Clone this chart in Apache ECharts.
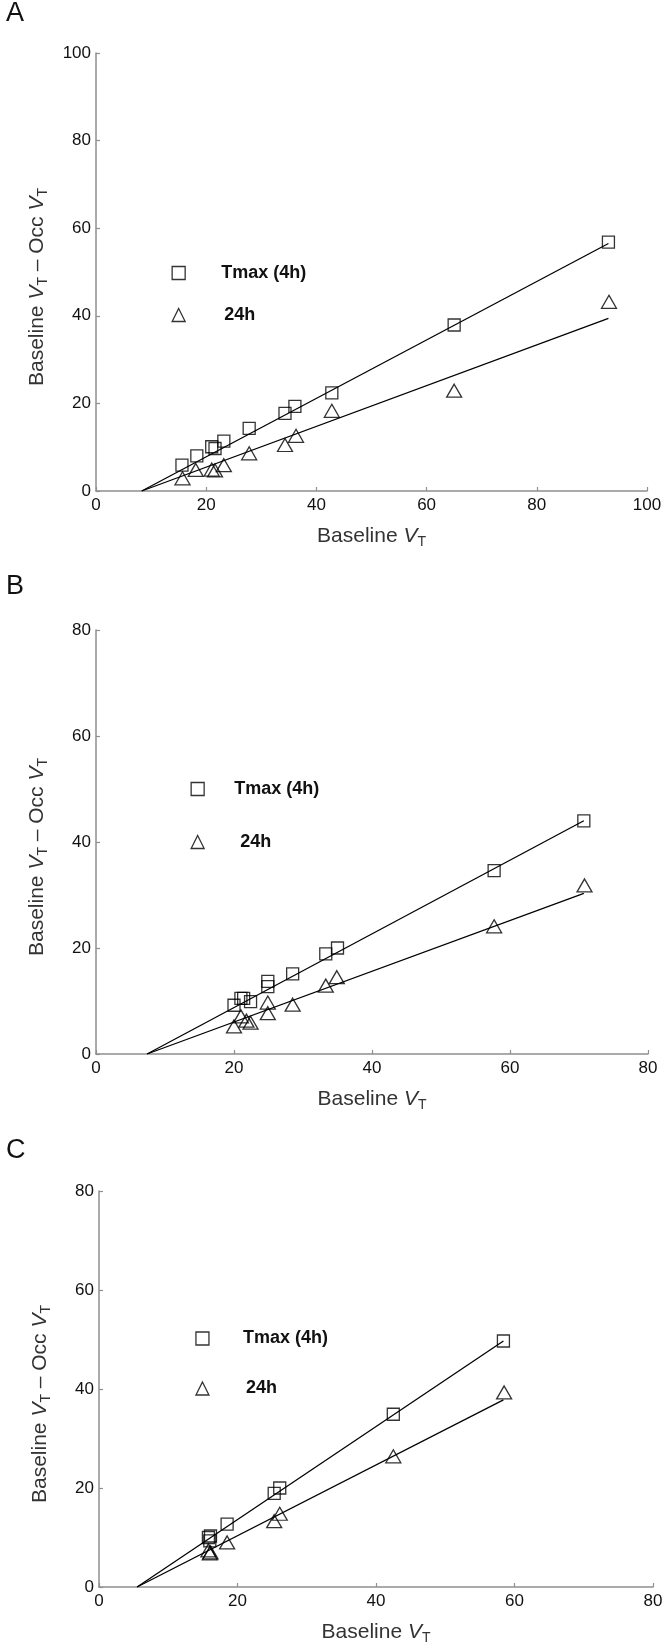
<!DOCTYPE html>
<html><head><meta charset="utf-8">
<script src="https://cdn.jsdelivr.net/npm/echarts@6/dist/echarts.min.js"></script>
<style>html,body{margin:0;padding:0;background:#fff}#c{width:670px;height:1646px}</style>
</head><body><div id="c"></div>
<script>
// ---------- Panel A ----------
const aXTmax = [15.6, 18.3, 21.0, 21.6, 23.2, 27.8, 34.3, 36.1, 42.8, 65.0, 93.0];
const aTmax  = [5.9, 8.0, 10.1, 9.7, 11.4, 14.3, 17.7, 19.3, 22.4, 37.9, 56.8];
const aX24   = [15.7, 18.1, 21.0, 21.6, 23.2, 27.8, 34.3, 36.3, 42.8, 65.0, 93.1];
const a24    = [2.9, 4.8, 4.9, 4.7, 5.9, 8.6, 10.5, 12.6, 18.3, 22.9, 43.2];
const aFitTmax = [[8.3, 0], [93.0, 56.5]];
const aFit24   = [[8.3, 0], [93.0, 39.4]];
// ---------- Panel B ----------
const bXTmax = [20.0, 21.0, 21.4, 22.4, 24.9, 24.9, 28.5, 33.3, 35.0, 57.7, 70.7];
const bTmax  = [9.2, 10.5, 10.5, 9.9, 13.7, 12.7, 15.1, 18.9, 20.0, 34.6, 44.0];
const bX24   = [20.0, 21.0, 21.8, 22.4, 24.9, 24.9, 28.5, 33.3, 34.9, 57.7, 70.8];
const b24    = [5.2, 7.1, 6.3, 5.9, 9.7, 7.7, 9.3, 12.9, 14.5, 24.1, 31.8];
const bFitTmax = [[7.4, 0], [70.7, 44.0]];
const bFit24   = [[7.4, 0], [70.7, 30.3]];
// ---------- Panel C ----------
const cXTmax = [15.8, 16.0, 16.1, 18.5, 25.3, 26.1, 42.5, 58.4];
const cTmax  = [10.0, 9.3, 10.3, 12.7, 18.9, 20.0, 34.9, 49.7];
const cX24   = [15.8, 16.0, 16.1, 18.5, 25.3, 26.1, 42.5, 58.5];
const c24    = [7.4, 6.8, 7.0, 9.0, 13.3, 14.8, 26.4, 39.3];
const cFitTmax = [[5.5, 0], [58.4, 49.7]];
const cFit24   = [[5.5, 0], [58.4, 37.8]];
// ---------- axes ----------
const xMaxes = [100, 80, 80];
const yMaxes = [100, 80, 80];
const tickStep = 20;
const panelLetters = ['A', 'B', 'C'];
const seriesNames = ['Tmax (4h)', '24h'];

const FONT = "'Liberation Sans', Arial, Helvetica, sans-serif";
const AXC = '#8f8f8f';
const nameRich = {
  i: {fontStyle: 'italic', fontSize: 21, color: '#333', fontFamily: FONT, lineHeight: 26},
  s: {fontSize: 14, color: '#333', fontFamily: FONT, lineHeight: 14, verticalAlign: 'bottom'}
};
function xAx(i) {
  return {
    type: 'value', gridIndex: i, min: 0, max: xMaxes[i], interval: tickStep,
    axisLine: {onZero: false, lineStyle: {color: AXC, width: 1.5}},
    axisTick: {inside: true, length: 4, lineStyle: {color: AXC, width: 1.2}},
    splitLine: {show: false},
    axisLabel: {color: '#111', fontSize: 17, fontFamily: FONT, margin: 6},
    name: 'Baseline {i|V}{s|T}', nameLocation: 'middle', nameGap: 32,
    nameTextStyle: {color: '#333', fontSize: 21, fontFamily: FONT, lineHeight: 26, rich: nameRich}
  };
}
function yAx(i) {
  return {
    type: 'value', gridIndex: i, min: 0, max: yMaxes[i], interval: tickStep,
    axisLine: {onZero: false, lineStyle: {color: AXC, width: 1.5}},
    axisTick: {inside: true, length: 4, lineStyle: {color: AXC, width: 1.2}},
    splitLine: {show: false},
    axisLabel: {color: '#111', fontSize: 17, fontFamily: FONT, margin: 5},
    name: 'Baseline {i|V}{s|T} \u2013 Occ {i|V}{s|T}', nameLocation: 'middle', nameGap: 46, nameRotate: 90,
    nameTextStyle: {color: '#333', fontSize: 21, fontFamily: FONT, lineHeight: 26, rich: nameRich, padding: [0, 30, 0, 0]}
  };
}
function zip(xs, ys) { return xs.map((x, k) => [x, ys[k]]); }
const hollow = {color: 'transparent', borderColor: '#000', borderWidth: 1.3};
function scat(i, name, sym, size, xs, ys) {
  return {type: 'scatter', name: name, xAxisIndex: i, yAxisIndex: i, symbol: sym, symbolSize: size,
    data: zip(xs, ys), itemStyle: hollow, emphasis: {disabled: true}, z: 3};
}
function fit(i, d) {
  return {type: 'line', name: 'fit' + i, xAxisIndex: i, yAxisIndex: i, data: d, symbol: 'none',
    lineStyle: {color: '#000', width: 1.3}, silent: true, z: 2};
}
function leg(left, top, gap, pad1, pad2) {
  return {
    orient: 'vertical', left: left, top: top, itemWidth: 13, itemHeight: 13, itemGap: gap, padding: 0,
    selectedMode: false,
    data: [
      {name: seriesNames[0], icon: 'rect', textStyle: {padding: [0, 0, 0, pad1]}},
      {name: seriesNames[1], icon: 'triangle', textStyle: {padding: [0, 0, 0, pad2]}}
    ],
    itemStyle: hollow,
    textStyle: {fontSize: 18, fontWeight: 'bold', color: '#111', fontFamily: FONT, lineHeight: 18}
  };
}
const titleTops = [0, 573, 1137];
const option = {
  animation: false,
  backgroundColor: '#fff',
  title: panelLetters.map((t, k) => ({text: t, left: 6, top: titleTops[k], padding: 0,
    textStyle: {fontSize: 27, fontWeight: 'normal', color: '#111', fontFamily: FONT}})),
  grid: [
    {left: 96, top: 53, width: 551, height: 438},
    {left: 96, top: 630, width: 552, height: 424},
    {left: 99, top: 1191, width: 554, height: 399}
  ],
  xAxis: [xAx(0), xAx(1), xAx(2)],
  yAxis: [yAx(0), yAx(1), yAx(2)],
  legend: [
    leg(171.5, 264, 24, 31, 34),
    leg(190.5, 780, 35, 25, 31),
    leg(195.3, 1329.5, 32, 29, 32)
  ],
  series: [
    fit(0, aFitTmax), fit(0, aFit24),
    scat(0, seriesNames[0], 'rect', 12, aXTmax, aTmax),
    scat(0, seriesNames[1], 'triangle', [15, 13], aX24, a24),
    fit(1, bFitTmax), fit(1, bFit24),
    scat(1, seriesNames[0], 'rect', 12, bXTmax, bTmax),
    scat(1, seriesNames[1], 'triangle', [15, 13], bX24, b24),
    fit(2, cFitTmax), fit(2, cFit24),
    scat(2, seriesNames[0], 'rect', 12, cXTmax, cTmax),
    scat(2, seriesNames[1], 'triangle', [15, 13], cX24, c24)
  ]
};
echarts.init(document.getElementById('c'), null, {renderer: 'canvas'}).setOption(option);
</script>
</body></html>
